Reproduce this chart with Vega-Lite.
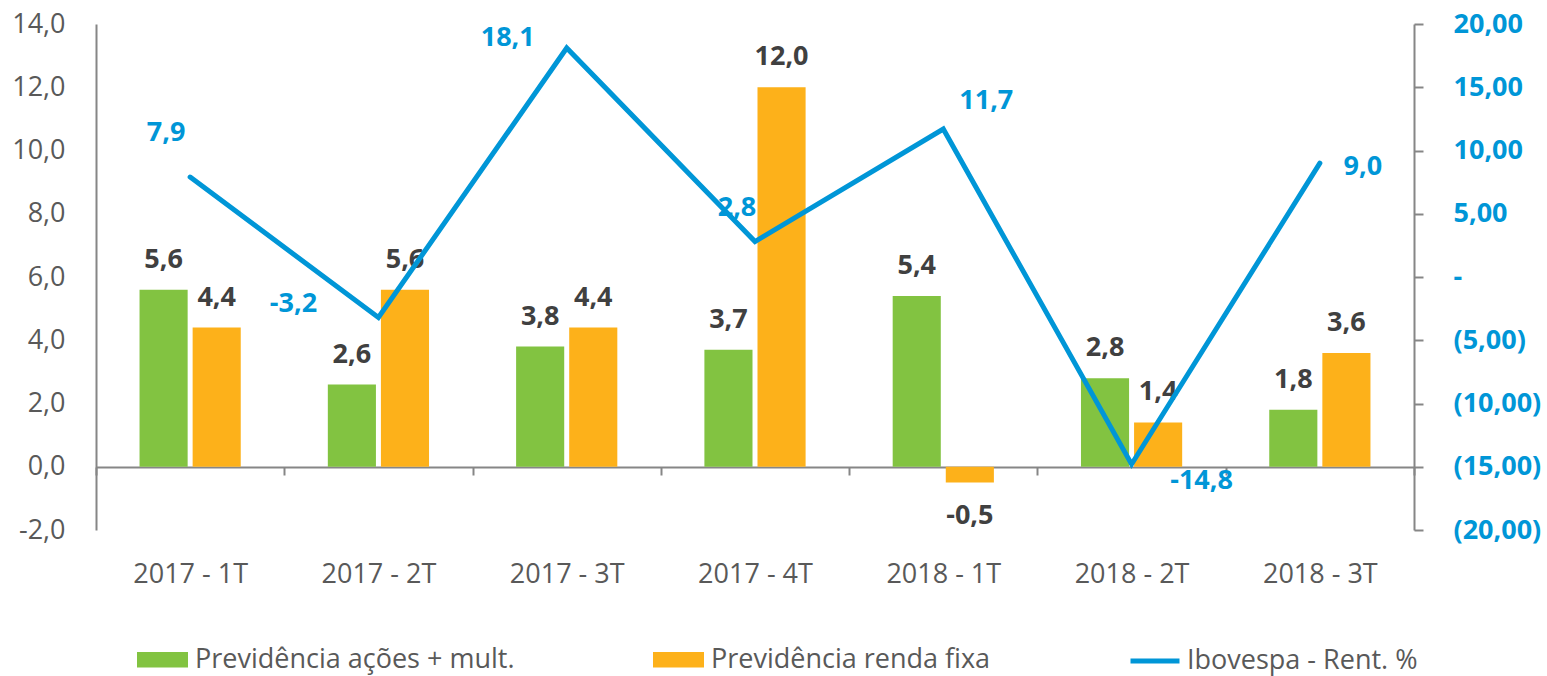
{
  "$schema": "https://vega.github.io/schema/vega-lite/v6.json",
  "width": 1318,
  "height": 506,
  "autosize": {"type": "none"},
  "padding": {"left": 96, "top": 24, "right": 133, "bottom": 146},
  "background": "white",
  "config": {
    "locale": {"number": {"decimal": ",", "thousands": ".", "grouping": [3], "currency": ["R$ ", ""], "minus": "-"}},
    "font": "Open Sans",
    "view": {"stroke": null}
  },
  "datasets": {
    "barras": [
      {"periodo": "2017 - 1T", "serie": "Previdência ações + mult.", "valor": 5.6},
      {"periodo": "2017 - 1T", "serie": "Previdência renda fixa", "valor": 4.4},
      {"periodo": "2017 - 2T", "serie": "Previdência ações + mult.", "valor": 2.6},
      {"periodo": "2017 - 2T", "serie": "Previdência renda fixa", "valor": 5.6},
      {"periodo": "2017 - 3T", "serie": "Previdência ações + mult.", "valor": 3.8},
      {"periodo": "2017 - 3T", "serie": "Previdência renda fixa", "valor": 4.4},
      {"periodo": "2017 - 4T", "serie": "Previdência ações + mult.", "valor": 3.7},
      {"periodo": "2017 - 4T", "serie": "Previdência renda fixa", "valor": 12.0},
      {"periodo": "2018 - 1T", "serie": "Previdência ações + mult.", "valor": 5.4},
      {"periodo": "2018 - 1T", "serie": "Previdência renda fixa", "valor": -0.5},
      {"periodo": "2018 - 2T", "serie": "Previdência ações + mult.", "valor": 2.8},
      {"periodo": "2018 - 2T", "serie": "Previdência renda fixa", "valor": 1.4},
      {"periodo": "2018 - 3T", "serie": "Previdência ações + mult.", "valor": 1.8},
      {"periodo": "2018 - 3T", "serie": "Previdência renda fixa", "valor": 3.6}
    ],
    "ibov": [
      {"periodo": "2017 - 1T", "indice": "Ibovespa - Rent. %", "rent": 7.9},
      {"periodo": "2017 - 2T", "indice": "Ibovespa - Rent. %", "rent": -3.2},
      {"periodo": "2017 - 3T", "indice": "Ibovespa - Rent. %", "rent": 18.1},
      {"periodo": "2017 - 4T", "indice": "Ibovespa - Rent. %", "rent": 2.8},
      {"periodo": "2018 - 1T", "indice": "Ibovespa - Rent. %", "rent": 11.7},
      {"periodo": "2018 - 2T", "indice": "Ibovespa - Rent. %", "rent": -14.8},
      {"periodo": "2018 - 3T", "indice": "Ibovespa - Rent. %", "rent": 9.0}
    ]
  },
  "layer": [
    {
      "data": {"name": "barras"},
      "layer": [
        {
          "mark": {"type": "bar"},
          "encoding": {
            "x": {
              "field": "periodo", "type": "nominal", "sort": null,
              "scale": {"domain": ["2017 - 1T", "2017 - 2T", "2017 - 3T", "2017 - 4T", "2018 - 1T", "2018 - 2T", "2018 - 3T"], "paddingInner": 0, "paddingOuter": 0},
              "axis": {
                "title": null, "orient": "bottom", "offset": -63,
                "domainColor": "#868686", "domainWidth": 2,
                "tickColor": "#868686", "tickWidth": 2, "tickSize": 8, "tickBand": "extent",
                "labelFont": "Open Sans", "labelFontSize": 27, "labelColor": "#595959",
                "labelPadding": 86, "labelAngle": 0
              }
            },
            "xOffset": {"field": "serie", "type": "nominal", "sort": null, "scale": {"paddingInner": 0.094, "paddingOuter": 0.82}},
            "y": {
              "field": "valor", "type": "quantitative",
              "scale": {"domain": [-2, 14], "nice": false, "zero": false},
              "axis": {
                "title": null, "values": [-2, 0, 2, 4, 6, 8, 10, 12, 14], "format": ".1f",
                "ticks": false, "grid": false,
                "domainColor": "#868686", "domainWidth": 2,
                "labelFont": "Open Sans", "labelFontSize": 27, "labelColor": "#595959", "labelPadding": 31
              }
            },
            "color": {
              "field": "serie", "type": "nominal", "sort": null,
              "scale": {"domain": ["Previdência ações + mult.", "Previdência renda fixa"], "range": ["#82C341", "#FDB11A"]},
              "legend": {
                "title": null, "orient": "none", "direction": "horizontal",
                "legendX": 41, "legendY": 610, "padding": 0,
                "symbolType": "M-1,-0.3H1V0.3H-1Z", "symbolSize": 2601, "symbolStrokeWidth": 0, "symbolOpacity": 1,
                "labelFont": "Open Sans", "labelFontSize": 27, "labelColor": "#595959",
                "labelOffset": 7, "labelLimit": 600, "columnPadding": 138
              }
            }
          }
        },
        {
          "transform": [{"filter": "datum.valor >= 0"}],
          "mark": {"type": "text", "dy": -30, "fontSize": 27, "fontWeight": "bold", "fill": "#404040", "baseline": "middle", "font": "Open Sans"},
          "encoding": {
            "x": {"field": "periodo", "type": "nominal", "sort": null},
            "xOffset": {"field": "serie", "type": "nominal", "sort": null},
            "y": {"field": "valor", "type": "quantitative"},
            "text": {"field": "valor", "type": "quantitative", "format": ".1f"}
          }
        },
        {
          "transform": [{"filter": "datum.valor < 0"}],
          "mark": {"type": "text", "dy": 33, "fontSize": 27, "fontWeight": "bold", "fill": "#404040", "baseline": "middle", "font": "Open Sans"},
          "encoding": {
            "x": {"field": "periodo", "type": "nominal", "sort": null},
            "xOffset": {"field": "serie", "type": "nominal", "sort": null},
            "y": {"field": "valor", "type": "quantitative"},
            "text": {"field": "valor", "type": "quantitative", "format": ".1f"}
          }
        }
      ]
    },
    {
      "data": {"name": "ibov"},
      "encoding": {
        "x": {"field": "periodo", "type": "nominal", "sort": null},
        "y": {
          "field": "rent", "type": "quantitative",
          "scale": {"domain": [-20, 20], "nice": false, "zero": false},
          "axis": {
            "orient": "right", "title": null, "values": [-20, -15, -10, -5, 0, 5, 10, 15, 20],
            "labelExpr": "datum.value == 0 ? '-' : (datum.value > 0 ? replace(format(datum.value, '.2f'), '.', ',') : '(' + replace(format(-datum.value, '.2f'), '.', ',') + ')')",
            "grid": false,
            "domainColor": "#868686", "domainWidth": 2,
            "tickColor": "#868686", "tickWidth": 2, "tickSize": 9,
            "labelPadding": 30, "labelFont": "Open Sans", "labelFontSize": 27, "labelFontWeight": "bold", "labelColor": "#0096D7"
          }
        }
      },
      "layer": [
        {
          "mark": {"type": "line", "strokeWidth": 5, "strokeCap": "round", "strokeJoin": "miter"},
          "encoding": {
            "stroke": {
              "field": "indice", "type": "nominal",
              "scale": {"domain": ["Ibovespa - Rent. %"], "range": ["#0096D7"]},
              "legend": {
                "title": null, "orient": "none", "direction": "horizontal",
                "legendX": 1032, "legendY": 610, "padding": 0,
                "symbolType": "stroke", "symbolSize": 2401, "symbolStrokeWidth": 5,
                "labelFont": "Open Sans", "labelFontSize": 27, "labelColor": "#595959",
                "labelOffset": 5, "labelLimit": 600
              }
            }
          }
        },
        {
          "transform": [{"filter": "datum.periodo === '2017 - 1T'"}],
          "mark": {"type": "text", "dx": -24, "dy": -44, "fontSize": 27, "fontWeight": "bold", "fill": "#0096D7", "baseline": "middle", "font": "Open Sans"},
          "encoding": {"text": {"field": "rent", "type": "quantitative", "format": ".1f"}}
        },
        {
          "transform": [{"filter": "datum.periodo === '2017 - 2T'"}],
          "mark": {"type": "text", "dx": -85, "dy": -13, "fontSize": 27, "fontWeight": "bold", "fill": "#0096D7", "baseline": "middle", "font": "Open Sans"},
          "encoding": {"text": {"field": "rent", "type": "quantitative", "format": ".1f"}}
        },
        {
          "transform": [{"filter": "datum.periodo === '2017 - 3T'"}],
          "mark": {"type": "text", "dx": -59, "dy": -10, "fontSize": 27, "fontWeight": "bold", "fill": "#0096D7", "baseline": "middle", "font": "Open Sans"},
          "encoding": {"text": {"field": "rent", "type": "quantitative", "format": ".1f"}}
        },
        {
          "transform": [{"filter": "datum.periodo === '2017 - 4T'"}],
          "mark": {"type": "text", "dx": -18, "dy": -34, "fontSize": 27, "fontWeight": "bold", "fill": "#0096D7", "baseline": "middle", "font": "Open Sans"},
          "encoding": {"text": {"field": "rent", "type": "quantitative", "format": ".1f"}}
        },
        {
          "transform": [{"filter": "datum.periodo === '2018 - 1T'"}],
          "mark": {"type": "text", "dx": 43, "dy": -28, "fontSize": 27, "fontWeight": "bold", "fill": "#0096D7", "baseline": "middle", "font": "Open Sans"},
          "encoding": {"text": {"field": "rent", "type": "quantitative", "format": ".1f"}}
        },
        {
          "transform": [{"filter": "datum.periodo === '2018 - 2T'"}],
          "mark": {"type": "text", "dx": 70, "dy": 17, "fontSize": 27, "fontWeight": "bold", "fill": "#0096D7", "baseline": "middle", "font": "Open Sans"},
          "encoding": {"text": {"field": "rent", "type": "quantitative", "format": ".1f"}}
        },
        {
          "transform": [{"filter": "datum.periodo === '2018 - 3T'"}],
          "mark": {"type": "text", "dx": 43, "dy": 4, "fontSize": 27, "fontWeight": "bold", "fill": "#0096D7", "baseline": "middle", "font": "Open Sans"},
          "encoding": {"text": {"field": "rent", "type": "quantitative", "format": ".1f"}}
        }
      ]
    }
  ],
  "resolve": {"scale": {"y": "independent"}}
}
